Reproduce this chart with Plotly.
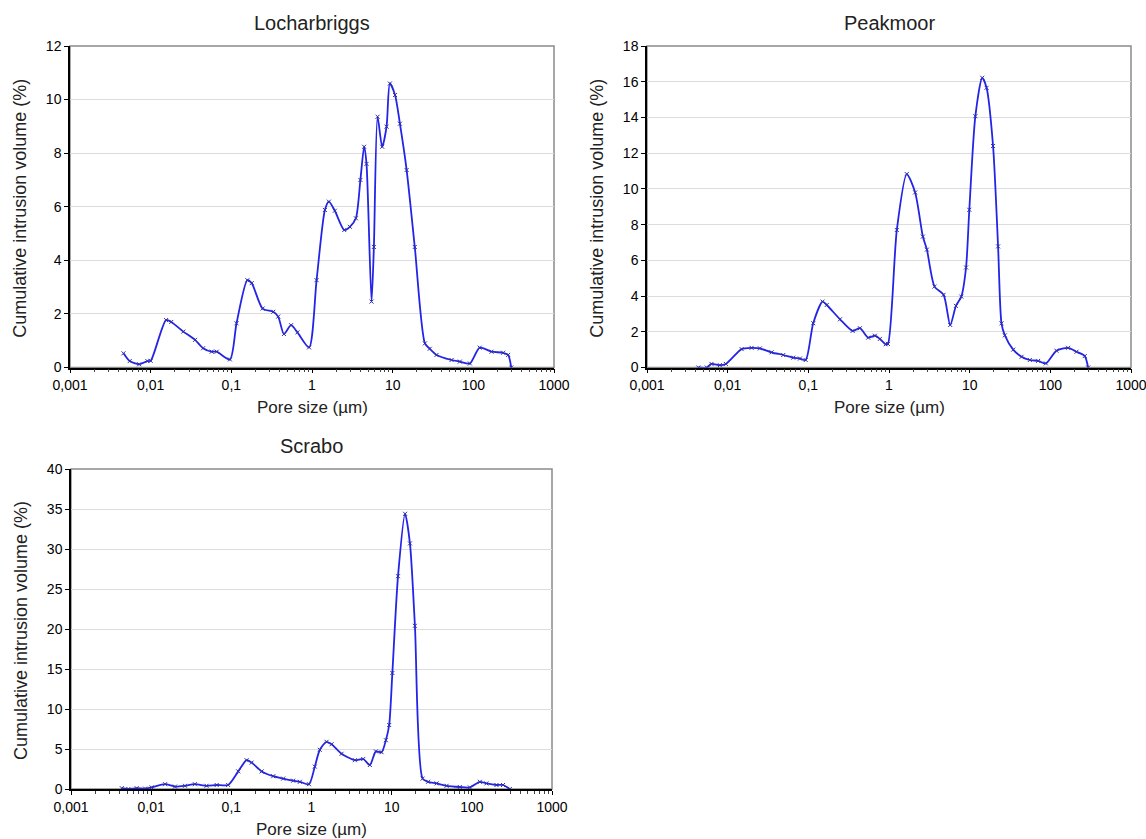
import plotly.graph_objects as go

# ---------------- data ----------------
loch_x = [0.0046, 0.0055, 0.0072, 0.0091, 0.0100, 0.0155, 0.018, 0.0254, 0.0355, 0.0447,
          0.057, 0.0658, 0.096, 0.116, 0.158, 0.179, 0.244, 0.331, 0.381, 0.449, 0.55, 0.66,
          0.92, 1.14, 1.445, 1.62, 1.92, 2.51, 2.95, 3.5, 3.98, 4.43, 4.74, 5.47, 5.85, 6.5,
          7.41, 8.4, 9.23, 10.7, 12.3, 14.9, 18.8, 25.1, 28.8, 35, 53.7, 68, 90.6, 120, 168,
          234, 270, 295]
loch_y = [0.53, 0.24, 0.12, 0.24, 0.25, 1.77, 1.70, 1.34, 1.03, 0.72,
          0.59, 0.59, 0.30, 1.65, 3.26, 3.15, 2.20, 2.08, 1.90, 1.25, 1.58, 1.31,
          0.75, 3.26, 5.88, 6.19, 5.85, 5.13, 5.25, 5.57, 7.0, 8.24, 7.6, 2.46, 4.5, 9.36,
          8.24, 8.99, 10.6, 10.17, 9.1, 7.37, 4.5, 0.9, 0.7, 0.47, 0.28, 0.22, 0.15, 0.74, 0.59,
          0.55, 0.47, 0.0]

peak_x = [0.00433, 0.0055, 0.0063, 0.008, 0.0095, 0.0149, 0.0198, 0.0251, 0.035, 0.0489,
          0.065, 0.0787, 0.0927, 0.115, 0.150, 0.169, 0.247, 0.354, 0.436, 0.552, 0.668,
          0.771, 0.908, 0.97, 1.25, 1.66, 2.11, 2.63, 2.95, 3.67, 4.75, 5.74, 6.76, 7.88,
          9.02, 9.9, 11.76, 14.3, 16.2, 19.5, 22.5, 24.8, 27.3, 34.7, 44, 55.7, 70.6, 88,
          119, 166, 211, 267, 294]
peak_y = [0.0, 0.0, 0.2, 0.13, 0.2, 1.03, 1.1, 1.07, 0.85, 0.7,
          0.55, 0.5, 0.42, 2.48, 3.69, 3.5, 2.7, 2.05, 2.2, 1.67, 1.78,
          1.6, 1.3, 1.32, 7.7, 10.83, 9.8, 7.33, 6.6, 4.53, 4.07, 2.38, 3.45, 3.97,
          5.6, 8.83, 14.07, 16.22, 15.66, 12.4, 6.78, 2.47, 1.8, 1.0, 0.6, 0.42, 0.37, 0.23,
          0.94, 1.1, 0.88, 0.64, 0.0]

scr_x = [0.0043, 0.0052, 0.0066, 0.0084, 0.0101, 0.0149, 0.0198, 0.0264, 0.0351, 0.049,
         0.0656, 0.0912, 0.122, 0.155, 0.179, 0.239, 0.333, 0.443, 0.591, 0.716, 0.93,
         1.1, 1.27, 1.54, 1.78, 2.37, 3.48, 4.42, 5.35, 6.35, 7.48, 8.47, 9.31, 10.2, 12.0,
         14.7, 16.9, 19.5, 24.3, 28.5, 36.3, 48.4, 70.8, 94.4, 126, 152, 203, 245, 298]
scr_y = [0.1, 0.0, 0.1, 0.05, 0.2, 0.6, 0.3, 0.4, 0.6, 0.4,
         0.5, 0.5, 2.2, 3.6, 3.3, 2.2, 1.6, 1.3, 1.04, 0.9, 0.6,
         2.8, 4.9, 5.9, 5.6, 4.4, 3.6, 3.75, 3.0, 4.7, 4.6, 6.1, 8.0, 14.5, 26.6,
         34.4, 30.7, 20.4, 1.3, 0.9, 0.7, 0.4, 0.25, 0.2, 0.9, 0.7, 0.5, 0.5, 0.0]

titles = ["Locharbriggs", "Peakmoor", "Scrabo"]
x_tickvals = [0.001, 0.01, 0.1, 1, 10, 100, 1000]
x_ticktext = ["0,001", "0,01", "0,1", "1", "10", "100", "1000"]
y_max = [12, 18, 40]
y_dtick = [2, 2, 5]
x_title = "Pore size (\u00b5m)"
y_title = "Cumulative intrusion volume (%)"

# ---------------- layout geometry (screen pixels) ----------------
W, H = 1146, 839
panels = [  # left, right, top, bottom  (screen pixels)
    (70, 554, 46, 367.5),
    (647, 1131, 46, 367.5),
    (71, 552, 469, 789),
]

def px(x):
    return x / W

def py(y):
    return 1 - y / H

FONT = "Liberation Sans, Arial, sans-serif"
BLUE = "#2424e8"

minor_vals = [m * 10 ** e for e in range(-3, 3) for m in range(2, 10)]

fig = go.Figure()
series = [(loch_x, loch_y), (peak_x, peak_y), (scr_x, scr_y)]
annotations = []
shapes = []
for i, ((xs, ys), (l, r, t, b)) in enumerate(zip(series, panels)):
    n = "" if i == 0 else str(i + 1)
    fig.add_trace(go.Scatter(
        x=xs, y=ys, mode="lines+markers",
        line=dict(color=BLUE, width=1.8, shape="spline", smoothing=0.7),
        marker=dict(symbol="x-thin", size=4, line=dict(width=1, color="#3030a0")),
        xaxis="x" + n, yaxis="y" + n, showlegend=False,
        hoverinfo="x+y",
    ))
    fig.layout["xaxis" + n] = dict(
        type="log", range=[-3, 3], domain=[px(l), px(r)], anchor="y" + n,
        automargin=False, ticklabeloverflow="allow",
        tickmode="array", tickvals=x_tickvals, ticktext=x_ticktext,
        ticks="outside", ticklen=4, tickcolor="black", tickwidth=1,
        showline=True, linecolor="black", linewidth=1.5,
        showgrid=False, zeroline=False,
        tickfont=dict(family=FONT, size=14, color="black"),
        minor=dict(tickmode="array", tickvals=minor_vals, ticks="outside",
                   ticklen=3, tickcolor="#444", showgrid=False),
    )
    fig.layout["yaxis" + n] = dict(
        range=[0, y_max[i]], dtick=y_dtick[i], domain=[py(b), py(t)], anchor="x" + n,
        automargin=False, ticklabeloverflow="allow",
        ticks="outside", ticklen=4, tickcolor="black",
        showline=True, linecolor="black", linewidth=1.5,
        showgrid=True, gridcolor="#dcdcdc", gridwidth=1, zeroline=False,
        tickfont=dict(family=FONT, size=14, color="black"),
    )
    # plot-area frame (grey on top and right)
    shapes.append(dict(type="rect", xref="x" + n + " domain", yref="y" + n + " domain",
                       x0=0, x1=1, y0=0, y1=1, line=dict(color="#8a8a8a", width=1.5),
                       layer="below"))
    cx = (l + r) / 2
    annotations.append(dict(text=titles[i], x=px(cx), y=py(t - 23), xref="paper", yref="paper",
                            showarrow=False, font=dict(family=FONT, size=20, color="#222"),
                            xanchor="center", yanchor="middle"))
    annotations.append(dict(text=x_title, x=px(cx), y=py(b + 40), xref="paper", yref="paper",
                            showarrow=False, font=dict(family=FONT, size=17, color="#222"),
                            xanchor="center", yanchor="middle"))
    annotations.append(dict(text=y_title, x=px(l - 50), y=py((t + b) / 2 + 2), xref="paper",
                            yref="paper", showarrow=False, textangle=-90,
                            font=dict(family=FONT, size=18, color="#222"),
                            xanchor="center", yanchor="middle"))

fig.update_layout(
    template="none",
    width=W, height=H, margin=dict(l=0, r=0, t=0, b=0, autoexpand=False),
    paper_bgcolor="white", plot_bgcolor="white",
    annotations=annotations, shapes=shapes,
)

fig.write_html("out.html",
               config={"displayModeBar": False},
               post_script="document.body.style.margin='0px';"
                           "document.body.style.overflow='hidden';")
